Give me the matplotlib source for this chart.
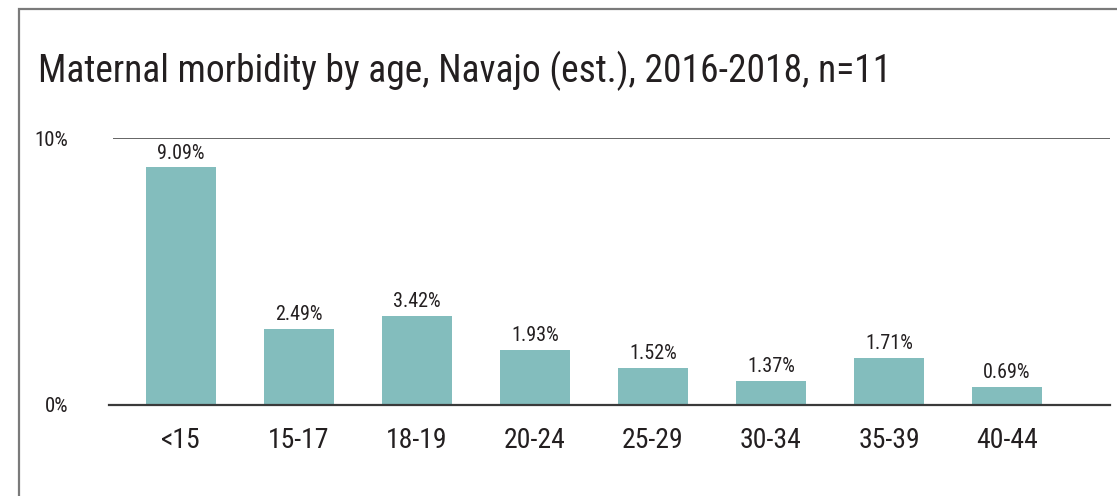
import matplotlib
matplotlib.use('Agg')
import matplotlib.pyplot as plt
from matplotlib import font_manager as fm
from matplotlib.patches import Rectangle

# data (bar heights vs printed labels differ slightly)
ages = ['<15', '15-17', '18-19', '20-24', '25-29', '30-34', '35-39', '40-44']
heights = [8.9, 2.86, 3.35, 2.07, 1.39, 0.9, 1.77, 0.68]
labels = ['9.09%', '2.49%', '3.42%', '1.93%', '1.52%', '1.37%', '1.71%', '0.69%']
yticks = [0, 10]
ytick_labels = ['0%', '10%']

TEAL = '#83BDBD'; INK = '#231F20'; LINE = '#3A3A3A'


def pick_font():
    # prefer a condensed face like the original
    for fam in ['Roboto Condensed', 'Liberation Sans Narrow', 'Open Sans Condensed',
                'Noto Sans Condensed']:
        try:
            fm.findfont(fm.FontProperties(family=fam), fallback_to_default=False)
            return fam
        except Exception:
            pass
    return 'Roboto'


FAM = pick_font()
plt.rcParams['font.family'] = [FAM, 'DejaVu Sans']

W, H = 1117, 496
fig = plt.figure(figsize=(W / 100, H / 100), dpi=100)
fig.patch.set_facecolor('white')
renderer = fig.canvas.get_renderer()

# outer frame (left and top visible, rest cut off)
fig.patches.append(Rectangle((19 / W, -0.05), 1.2, 1 - 9 / H + 0.05,
                             transform=fig.transFigure, fill=False,
                             edgecolor='#7A7A7A', linewidth=1.6))

title = fig.text(38 / W, 1 - 82 / H, 'Maternal morbidity by age, Navajo (est.), 2016-2018, n=11',
                 fontsize=27, color=INK, va='baseline', ha='left')
w = title.get_window_extent(renderer).width
if w > 930:
    title.set_fontsize(27 * 930 / w)

ax = fig.add_axes([113 / W, (H - 405) / H, 997 / W, 267 / H])
x = list(range(len(ages)))
ax.bar(x, heights, width=0.6, color=TEAL, zorder=2)
for xi, h, lab in zip(x, heights, labels):
    ax.text(xi, h + 0.18, lab, ha='center', va='bottom', fontsize=14.5, color=INK)

ax.set_xlim(-0.576, 7.873)
ax.set_ylim(0, 10)
ax.axhline(10, color=LINE, linewidth=1.1, zorder=1)
ax.axhline(0, color=LINE, linewidth=1.6, zorder=3, xmin=-0.004, clip_on=False)

for sp in ax.spines.values():
    sp.set_visible(False)
ax.set_xticks(x)
ax.set_xticklabels(ages, fontsize=20, color=INK)
ax.set_yticks(yticks)
ax.set_yticklabels(ytick_labels, fontsize=15, color=INK)
ax.tick_params(axis='x', length=0, pad=16)
ax.tick_params(axis='y', length=0, pad=45 * 72 / 100)

fig.savefig('out.png', dpi=100, facecolor='white')
